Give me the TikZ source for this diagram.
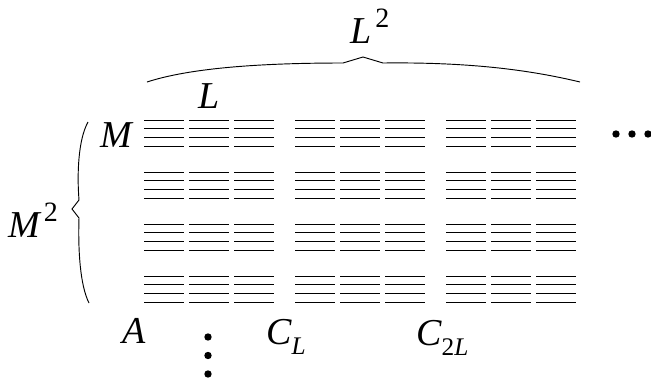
\documentclass[tikz,border=0pt]{standalone}
\usepackage{fontspec}
\setmainfont{Liberation Serif}
\usepackage{tikz}
\usetikzlibrary{positioning}
\tikzstyle{sym} = [
    anchor=base west,
    inner sep=0pt,
    font=\fontsize{28.5}{30}\selectfont\itshape
]
\tikzstyle{wire} = [
    line width=0.75pt,
    color=black
]
\tikzstyle{brace} = [
    line width=0.7pt,
    color=black
]
\newcommand{\sups}[1]{\kern3pt\raisebox{12pt}{\fontsize{21}{21}\selectfont\upshape #1}}
\newcommand{\subs}[1]{\raisebox{-7.5pt}{\fontsize{19}{19}\selectfont #1}}

\begin{document}
\begin{tikzpicture}[x=0.75pt, y=-0.75pt]
        \useasboundingbox (0,0) rectangle (651,383);

        % Blocks of lines
        \foreach \g in {0,1,2}
            \foreach \k in {0,1,2}
                \foreach \r in {0,1,2,3}
                    \foreach \i in {0,1,2,3}
                        \draw[wire] ({144+151*\g+45*\k},{120.3+52*\r+8.67*\i}) -- ++(40,0);

        % Symbols
        \node[sym] (lsq) at (350,43) {L\sups{2}};
        \node[sym] (ell) at (198,108) {L};
        \node[sym] (em) at (100,147) {M};
        \node[sym] (emsq) at (8,237) {M\sups{2}};
        \node[sym] (a) at (122,343) {A};
        \node[sym] (cl) at (266,344) {C\subs{L}};
        \node[sym] (ctl) at (416,345) {C\subs{{\upshape 2}L}};

        % Braces
        \draw[brace] (147,82) .. controls (190,68) and (260,63) .. (343,63)
            -- (363,57) -- (383,63) .. controls (470,62) and (530,70) .. (580,82);
        \draw[brace] (88,122) .. controls (78,140) and (77,175) .. (79,200)
            -- (72,209) -- (79,218) .. controls (78,250) and (80,285) .. (89,303);

        % Dots
        \foreach \x in {616,632,648}
            \fill (\x,134) circle (3.7);
        \foreach \y in {337,355.5,374}
            \fill (208,\y) circle (3.7);
    \end{tikzpicture}
\end{document}
